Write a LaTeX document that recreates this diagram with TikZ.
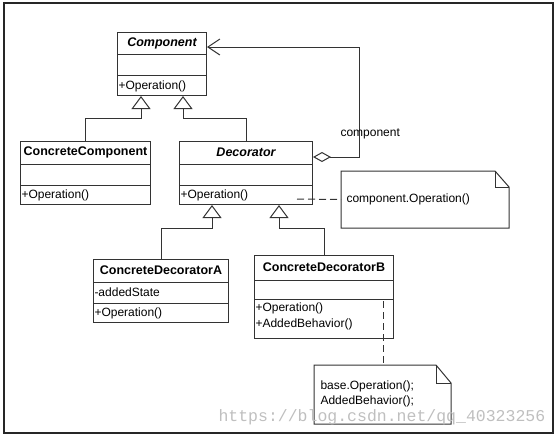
\documentclass[tikz,border=0pt]{standalone}
\usepackage{fontspec}
\setmainfont{Liberation Sans}
\setmonofont{Liberation Mono}
\usetikzlibrary{%
  arrows.meta,%
  calc%
}

\begin{document}
\begin{tikzpicture}[x=1pt,y=-1pt,line width=1pt,
  classbox/.style={draw=black!80,anchor=north west,inner sep=0pt},
  notebox/.style={anchor=north west,inner sep=0pt},
  member/.style={anchor=west,inner xsep=1pt,font=\fontsize{12}{15}\selectfont},
  classname/.style={font=\fontsize{12.5}{14}\selectfont\bfseries},
  inherit/.style={draw=black!80,-{Triangle[open,length=13pt,width=19pt]}},
  notelink/.style={draw=black!80,dash pattern=on 7pt off 4pt}]
  \useasboundingbox (0,0) rectangle (559,437);
  \draw[black!85,line width=2pt] (4,3) rectangle (553,433);

  % Component
  \node[classbox,minimum width=89pt,minimum height=63pt] (component) at (117,32) {};
  \draw[black!80] ([yshift=-22pt]component.north west) -- ([yshift=-22pt]component.north east);
  \draw[black!80] ([yshift=-43pt]component.north west) -- ([yshift=-43pt]component.north east);
  \node[classname] (componentname) at ([yshift=-11pt]component.north) {\itshape Component};
  \node[member] (componentop) at ([yshift=10pt]component.south west) {+Operation()};

  % ConcreteComponent
  \node[classbox,minimum width=130pt,minimum height=63pt] (concretecomp) at (20,141) {};
  \draw[black!80] ([yshift=-23pt]concretecomp.north west) -- ([yshift=-23pt]concretecomp.north east);
  \draw[black!80] ([yshift=-44pt]concretecomp.north west) -- ([yshift=-44pt]concretecomp.north east);
  \node[classname] (concretecompname) at ([yshift=-11.5pt]concretecomp.north) {ConcreteComponent};
  \node[member] (concretecompop) at ([yshift=9.5pt]concretecomp.south west) {+Operation()};

  % Decorator
  \node[classbox,minimum width=133pt,minimum height=63pt] (decorator) at (179,141) {};
  \draw[black!80] ([yshift=-23pt]decorator.north west) -- ([yshift=-23pt]decorator.north east);
  \draw[black!80] ([yshift=-44pt]decorator.north west) -- ([yshift=-44pt]decorator.north east);
  \node[classname] (decoratorname) at ([yshift=-11.5pt]decorator.north) {\itshape Decorator};
  \node[member] (decoratorop) at ([yshift=9.5pt]decorator.south west) {+Operation()};

  % ConcreteDecoratorA
  \node[classbox,minimum width=135pt,minimum height=63pt] (decoratorA) at (93,259) {};
  \draw[black!80] ([yshift=-23pt]decoratorA.north west) -- ([yshift=-23pt]decoratorA.north east);
  \draw[black!80] ([yshift=-44pt]decoratorA.north west) -- ([yshift=-44pt]decoratorA.north east);
  \node[classname] (decoratorAname) at ([yshift=-11.5pt]decoratorA.north) {ConcreteDecoratorA};
  \node[member] (decoratorAstate) at ([yshift=-33.5pt]decoratorA.north west) {-addedState};
  \node[member] (decoratorAop) at ([yshift=9.5pt]decoratorA.south west) {+Operation()};

  % ConcreteDecoratorB
  \node[classbox,minimum width=139pt,minimum height=83pt] (decoratorB) at (254,255) {};
  \draw[black!80] ([yshift=-25pt]decoratorB.north west) -- ([yshift=-25pt]decoratorB.north east);
  \draw[black!80] ([yshift=-44pt]decoratorB.north west) -- ([yshift=-44pt]decoratorB.north east);
  \node[classname] (decoratorBname) at ([yshift=-12pt]decoratorB.north) {ConcreteDecoratorB};
  \node[member] (decoratorBop) at ([yshift=-53pt]decoratorB.north west) {+Operation()};
  \node[member] (decoratorBadd) at ([yshift=-69pt]decoratorB.north west) {+AddedBehavior()};

  % generalisations
  \draw[inherit] (concretecomp.north) |- ($(component.south west)+(24,22)$) -- ($(component.south west)+(24,0)$);
  \draw[inherit] (decorator.north) |- ($(component.south west)+(66,22)$) -- ($(component.south west)+(66,0)$);
  \draw[inherit] (decoratorA.north) |- ($(decorator.south west)+(33,23)$) -- ($(decorator.south west)+(33,0)$);
  \draw[inherit] (decoratorB.north) |- ($(decorator.south west)+(100,23)$) -- ($(decorator.south west)+(100,0)$);

  % aggregation
  \draw[black!80,{Diamond[open,length=18pt,width=10pt]}-{Straight Barb[length=12pt,width=16pt]}]
    ([yshift=-16pt]decorator.north east) -- ++(46,0) |- ([yshift=-15pt]component.north east);
  \node[member] (complabel) at (339,134) {component};

  % notes
  \node[notebox,minimum width=167pt,minimum height=56pt] (noteop) at (341,171) {};
  \draw[black!80] (noteop.north west) -- ([xshift=-14pt]noteop.north east) -- ([yshift=-16pt]noteop.north east)
    -- (noteop.south east) -- (noteop.south west) -- cycle;
  \draw[black!80] ([xshift=-14pt]noteop.north east) |- ([yshift=-16pt]noteop.north east);
  \node[member] (noteoptext) at ([xshift=4pt]noteop.west) {component.Operation()};
  \coordinate (decoratorcall) at (297,199);
  \draw[notelink] (decoratorcall) -- (noteop.west);

  \node[notebox,minimum width=136pt,minimum height=58pt] (notebehav) at (314,365) {};
  \draw[black!80] (notebehav.north west) -- ([xshift=-15pt]notebehav.north east) -- ([yshift=-18pt]notebehav.north east)
    -- (notebehav.south east) -- (notebehav.south west) -- cycle;
  \draw[black!80] ([xshift=-15pt]notebehav.north east) |- ([yshift=-18pt]notebehav.north east);
  \node[member,align=left] (notebehavtext) at ([xshift=5pt,yshift=-29pt]notebehav.north west) {base.Operation();\\AddedBehavior();};
  \coordinate (behavcall) at (383,301);
  \draw[notelink] (behavcall) -- (behavcall |- notebehav.north);

  % watermark
  \node[anchor=west,inner sep=0pt,text=black!25,font=\ttfamily\fontsize{16.5}{18}\selectfont] (watermark) at (218,417) {https://blog.csdn.net/qq\_40323256};
\end{tikzpicture}
\end{document}
